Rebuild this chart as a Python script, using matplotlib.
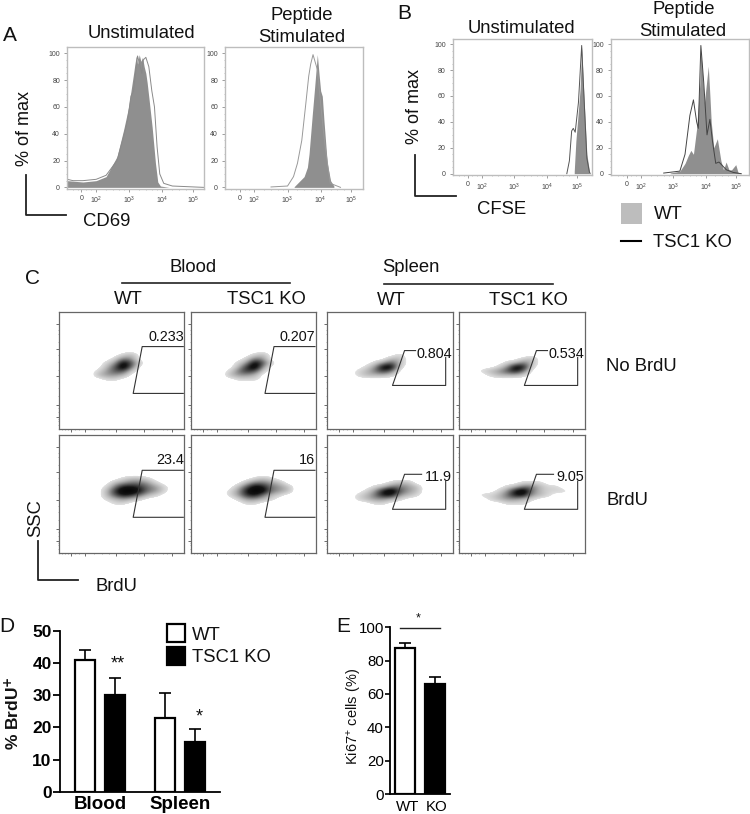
import matplotlib
matplotlib.use('Agg')
import matplotlib.pyplot as plt
from matplotlib.colors import LinearSegmentedColormap
from matplotlib.patches import Rectangle
from matplotlib.lines import Line2D
import numpy as np

plt.rcParams['font.family'] = ['Liberation Sans', 'DejaVu Sans']
plt.rcParams['mathtext.default'] = 'regular'

W, H = 750, 814

# histogram data, x in decades of fluorescence, y in % of max
a1_x_fill = [1.13,1.6,2.0,2.3,2.63,2.83,2.98,3.13,3.17,3.21,3.25,3.3,3.35,3.4,3.45,3.5,3.54,3.6,3.69,3.79,3.86,3.94,4.2]
a1_y_fill = [5,4,5,8,23,43,60,85,92,98,92,99,94,97,90,85,78,65,45,18,4,1,0]
a1_x_line = [1.13,1.3,1.6,2.0,2.3,2.63,2.83,2.95,3.05,3.13,3.2,3.25,3.33,3.38,3.42,3.5,3.59,3.68,3.76,3.84,3.92,4.04,4.3,5.24]
a1_y_line = [6,5,5,6,9,20,38,50,68,72,88,98,90,85,95,97,90,72,60,30,10,3,1,0]

a2_x_fill = [3.2,3.3,3.5,3.6,3.65,3.75,3.82,3.87,3.9,3.95,4.0,4.05,4.1,4.2,4.3,4.4]
a2_y_fill = [0.5,3,8,15,25,55,75,90,99,85,72,68,50,18,5,1]
a2_x_line = [2.5,3.0,3.18,3.3,3.43,3.55,3.64,3.7,3.77,3.84,3.9,3.99,4.07,4.14,4.29,4.6]
a2_y_line = [0.3,1,8,18,35,62,83,92,99,93,88,65,45,30,3,0]

b1_x_fill = [4.85,4.9,4.95,5.03,5.08,5.13,5.24,5.32,5.36]
b1_y_fill = [2,25,40,65,98,70,15,2,0]
b1_x_line = [4.62,4.7,4.77,4.82,4.88,4.98,5.08,5.15,5.24,5.32]
b1_y_line = [0,10,33,35,32,55,99,60,12,1]

b2_x_fill = [2.9,3.2,3.36,3.46,3.54,3.62,3.72,3.82,3.85,3.96,4.08,4.13,4.17,4.25,4.36,4.47,4.55,4.63,4.72,4.8,4.93,5.0,5.1]
b2_y_fill = [0.5,2,8,14,18,15,35,70,95,55,83,60,40,20,27,10,3,9,3,3,7,1,0]
b2_x_line = [2.7,3.2,3.36,3.51,3.62,3.72,3.77,3.85,3.94,4.04,4.13,4.21,4.31,4.41,4.64,4.85,5.1]
b2_y_line = [0.5,2,15,45,57,40,35,99,70,30,42,25,8,9,3,1,0]

hist_ticks = [1.55, 2, 3, 4, 4.93]
hist_ticklabels = ['0', '$10^2$', '$10^3$', '$10^4$', '$10^5$']
hist_minor = [1.3, 1.45, 1.7, 1.85, 2.3, 2.5, 2.7, 2.85, 3.3, 3.5, 3.7, 3.85, 4.3, 4.5, 4.7]
hist_yticks = [0, 20, 40, 60, 80, 100]

# density plots, rows run top to bottom (SSC 78 down to 46), columns BrdU 0 to 112
blood_wt_no = [
 [0,0,0,0,0,0,0,0,0,0,0,0,0,0,0],
 [0,0,0,0,0,0,0,0,1,2,0,0,0,0,0],
 [0,0,0,0,0,0,0,1,4,3,0,0,0,0,0],
 [0,0,0,0,0,0,1,3,8,5,1,0,0,0,0],
 [0,0,0,0,0,0,2,5,9,4,0,0,0,0,0],
 [0,0,0,0,0,1,3,5,5,1,0,0,0,0,0],
 [0,0,0,0,0,2,3,3,2,0,0,0,0,0,0],
 [0,0,0,0,0,0,1,1,0,0,0,0,0,0,0],
 [0,0,0,0,0,0,0,0,0,0,0,0,0,0,0]]
blood_ko_no = [
 [0,0,0,0,0,0,0,0,0,0,0,0,0,0,0],
 [0,0,0,0,0,0,0,0,1,2,0,0,0,0,0],
 [0,0,0,0,0,0,0,1,4,3,0,0,0,0,0],
 [0,0,0,0,0,0,1,3,8,5,1,0,0,0,0],
 [0,0,0,0,0,0,2,6,9,3,0,0,0,0,0],
 [0,0,0,0,0,1,4,6,5,1,0,0,0,0,0],
 [0,0,0,0,0,2,3,3,2,0,0,0,0,0,0],
 [0,0,0,0,0,0,1,1,1,0,0,0,0,0,0],
 [0,0,0,0,0,0,0,0,0,0,0,0,0,0,0]]
spleen_wt_no = [
 [0,0,0,0,0,0,0,0,0,0,0,0,0,0,0],
 [0,0,0,0,0,0,0,0,0,1,0,0,0,0,0],
 [0,0,0,0,0,0,0,0,2,2,0,0,0,0,0],
 [0,0,0,0,0,0,1,3,5,2,0,0,0,0,0],
 [0,0,0,0,0,1,3,8,8,1,0,0,0,0,0],
 [0,0,0,0,1,2,4,6,4,0,0,0,0,0,0],
 [0,0,0,0,1,2,2,2,1,0,0,0,0,0,0],
 [0,0,0,0,0,0,0,0,0,0,0,0,0,0,0],
 [0,0,0,0,0,0,0,0,0,0,0,0,0,0,0]]
spleen_ko_no = [
 [0,0,0,0,0,0,0,0,0,0,0,0,0,0,0],
 [0,0,0,0,0,0,0,0,0,0,0,0,0,0,0],
 [0,0,0,0,0,0,0,0,1,2,0,0,0,0,0],
 [0,0,0,0,0,0,1,2,4,2,0,0,0,0,0],
 [0,0,0,0,0,1,3,8,7,1,0,0,0,0,0],
 [0,0,0,1,2,3,5,7,4,0,0,0,0,0,0],
 [0,0,0,0,1,2,2,2,1,0,0,0,0,0,0],
 [0,0,0,0,0,0,0,0,0,0,0,0,0,0,0],
 [0,0,0,0,0,0,0,0,0,0,0,0,0,0,0]]
blood_wt_brdu = [
 [0,0,0,0,0,0,0,0,0,0,0,0,0,0,0],
 [0,0,0,0,0,0,0,0,1,2,2,1,0,0,0],
 [0,0,0,0,0,0,0,2,3,4,4,3,1,0,0],
 [0,0,0,0,0,0,1,4,7,7,6,4,3,1,0],
 [0,0,0,0,0,0,2,6,9,9,7,4,3,1,0],
 [0,0,0,0,0,0,2,5,7,6,4,2,1,0,0],
 [0,0,0,0,0,0,1,2,3,2,1,0,0,0,0],
 [0,0,0,0,0,0,0,1,1,0,0,0,0,0,0],
 [0,0,0,0,0,0,0,0,0,0,0,0,0,0,0]]
blood_ko_brdu = [
 [0,0,0,0,0,0,0,0,0,0,0,0,0,0,0],
 [0,0,0,0,0,0,0,0,1,2,1,0,0,0,0],
 [0,0,0,0,0,0,0,2,4,4,3,2,0,0,0],
 [0,0,0,0,0,0,2,5,8,7,4,3,2,0,0],
 [0,0,0,0,0,1,3,7,9,8,4,3,2,0,0],
 [0,0,0,0,0,1,3,6,7,4,2,1,0,0,0],
 [0,0,0,0,0,0,1,3,3,2,1,0,0,0,0],
 [0,0,0,0,0,0,0,1,1,0,0,0,0,0,0],
 [0,0,0,0,0,0,0,0,0,0,0,0,0,0,0]]
spleen_wt_brdu = [
 [0,0,0,0,0,0,0,0,0,0,0,0,0,0,0],
 [0,0,0,0,0,0,0,0,0,0,0,0,0,0,0],
 [0,0,0,0,0,0,0,0,1,2,2,0,0,0,0],
 [0,0,0,0,0,0,1,2,4,4,3,2,0,0,0],
 [0,0,0,0,0,1,3,7,9,5,3,2,0,0,0],
 [1,0,0,0,1,2,4,7,7,3,2,1,0,0,0],
 [0,0,0,0,1,2,3,3,2,1,0,0,0,0,0],
 [0,0,0,0,0,0,1,1,0,0,0,0,0,0,0],
 [0,0,0,0,0,0,0,0,0,0,0,0,0,0,0]]
spleen_ko_brdu = [
 [0,0,0,0,0,0,0,0,0,0,0,0,0,0,0],
 [0,0,0,0,0,0,0,0,0,0,0,0,0,0,0],
 [0,0,0,0,0,0,0,0,1,1,1,0,0,0,0],
 [0,0,0,0,0,0,1,2,4,4,2,1,1,0,0],
 [0,0,0,0,0,1,3,7,9,4,2,1,1,1,0],
 [1,0,0,1,1,2,4,7,7,3,2,1,0,0,0],
 [0,0,0,0,1,2,3,3,2,1,0,0,0,0,0],
 [0,0,0,0,0,0,1,1,1,0,0,0,0,0,0],
 [0,0,0,0,0,0,0,0,0,0,0,0,0,0,0]]
gate_labels = ['0.233', '0.207', '0.804', '0.534', '23.4', '16', '11.9', '9.05']

# bar panels
d_groups = ['Blood', 'Spleen']
d_wt = [41, 23]
d_wt_err = [3, 7.8]
d_ko = [30, 15.5]
d_ko_err = [5.3, 4]
e_labels = ['WT', 'KO']
e_vals = [87.8, 65.8]
e_err = [2.6, 4.2]

fig = plt.figure(figsize=(7.5, 8.14), dpi=100)


def axpx(l, t, r, b):
    return fig.add_axes([l / W, 1 - b / H, (r - l) / W, (b - t) / H])


def txt(x, y, s, size=13.3, **kw):
    kw.setdefault('ha', 'center')
    kw.setdefault('va', 'center')
    if 'rotation' in kw:
        x += 2.5
    else:
        y += 1.5
    fig.text(x / W, 1 - y / H, s, fontsize=size, color='#111111', **kw)


def rule(xs, ys, lw=1.3, color='#222222'):
    fig.add_artist(Line2D([x / W for x in xs], [1 - y / H for y in ys], lw=lw, color=color))


def box(l, t, r, b, fc, ec='none', lw=0):
    fig.add_artist(Rectangle((l / W, 1 - b / H), (r - l) / W, (b - t) / H, transform=fig.transFigure, fc=fc, ec=ec, lw=lw))


def hist_panel(rect, xlim, ylim, xf, yf, xl, yl, fillc, linec, spike=None):
    ax = axpx(*rect)
    ax.fill_between(xf, yf, 0, color=fillc, lw=0)
    ax.plot(xl, yl, color=linec, lw=0.7)
    if spike:
        ax.plot([xlim[0] + 0.01] * 2, [0, spike], color='#999999', lw=0.8)
    ax.set_xlim(*xlim)
    ax.set_ylim(*ylim)
    ax.set_xticks(hist_ticks)
    ax.set_xticklabels(hist_ticklabels)
    ax.set_xticks(hist_minor, minor=True)
    ax.set_yticks(hist_yticks)
    ax.set_yticks(np.arange(0, 101, 5), minor=True)
    ax.tick_params(axis='both', which='major', labelsize=5, length=2, width=0.5, pad=3,
                   color='#777777', labelcolor='#444444')
    ax.tick_params(axis='x', which='major', pad=2.5)
    ax.tick_params(which='minor', length=1, width=0.4, color='#999999')
    for s in ax.spines.values():
        s.set_color('#bdbdbd')
        s.set_linewidth(1)
    return ax


# A
hist_panel((67, 47, 203.5, 188.7), (1.12, 5.24), (-1, 104.7), a1_x_fill, a1_y_fill, a1_x_line, a1_y_line, '#8f8f8f', '#8a8a8a')
hist_panel((225, 47, 363, 188.7), (1.11, 5.28), (-1, 104.7), a2_x_fill, a2_y_fill, a2_x_line, a2_y_line, '#8f8f8f', '#999999', spike=20)
txt(10, 34, 'A', 15)
txt(141, 32, 'Unstimulated')
txt(302, 14, 'Peptide')
txt(302, 36, 'Stimulated')
txt(22, 128, '% of max', 13, rotation=90)
txt(107, 220, 'CD69')
rule([26, 26, 66], [175, 215, 215])

# B
hist_panel((452.7, 39, 591.7, 175), (1.09, 5.39), (-1, 104), b1_x_fill, b1_y_fill, b1_x_line, b1_y_line, '#8f8f8f', '#555555')
hist_panel((610.7, 39, 748.7, 175), (1.06, 5.33), (-1, 104), b2_x_fill, b2_y_fill, b2_x_line, b2_y_line, '#8f8f8f', '#444444')
txt(404, 12, 'B', 15)
txt(521, 27, 'Unstimulated')
txt(684, 8, 'Peptide')
txt(683, 30, 'Stimulated')
txt(412, 107, '% of max', 13, rotation=90)
txt(502, 208, 'CFSE')
rule([415, 415, 456], [155, 196, 196])
box(620.7, 203, 641.7, 224, '#bdbdbd')
rule([621, 641], [241, 241], 1.5, 'black')
txt(654, 213, 'WT', ha='left')
txt(653, 241, 'TSC1 KO', ha='left')

# C
density_cmap = LinearSegmentedColormap.from_list('facs', [(0, 'white'), (0.05, 'white'), (0.06, '#e0e0e0'),
                                                          (0.25, '#b0b0b0'), (0.5, '#606060'), (0.75, '#141414'), (1, 'black')])
x_major = [12, 26, 57, 85, 113]
x_minor = [3, 6, 9, 16, 20, 35, 43, 50, 66, 74, 80, 94, 104, 108]
y_major = [12, 24, 53, 81, 106]
y_minor = [4, 8, 10, 17, 21, 33, 41, 47, 60, 68, 75, 88, 96, 100]
grid_cols = [(59, 184.3), (191, 316), (327.3, 452.7), (459, 584.7)]
grid_rows = [(311.7, 429.3), (435.3, 553.3)]
panels = [blood_wt_no, blood_ko_no, spleen_wt_no, spleen_ko_no,
          blood_wt_brdu, blood_ko_brdu, spleen_wt_brdu, spleen_ko_brdu]

for i, dens in enumerate(panels):
    col = i % 4
    row = i // 4
    ax = axpx(grid_cols[col][0], grid_rows[row][0], grid_cols[col][1], grid_rows[row][1])
    ax.imshow(np.array(dens, dtype=float), extent=(-4, 116, 44, 80), cmap=density_cmap, vmin=0, vmax=9,
              interpolation='bicubic', interpolation_stage='data', aspect='auto')
    ax.set_xlim(0, 125)
    ax.set_ylim(0, 118)
    if col < 2:
        ax.plot([124, 83, 74, 124], [83, 83, 36, 36], color='#333333', lw=0.8)
        ax.text(124.5, 93, gate_labels[i], ha='right', va='center', fontsize=10.4, color='#111111')
    else:
        top_end = 88 if row == 0 else 94
        ax.plot([top_end, 77, 65, 118, 118], [79, 79, 44, 44, 72], color='#333333', lw=0.8)
        ax.text(124.5, 76, gate_labels[i], ha='right', va='center', fontsize=10.4, color='#111111')
    ax.set_xticks(x_major)
    ax.set_xticks(x_minor, minor=True)
    ax.set_yticks(y_major)
    ax.set_yticks(y_minor, minor=True)
    ax.set_xticklabels([])
    ax.set_yticklabels([])
    ax.tick_params(which='major', length=2, width=0.6, color='#555555')
    ax.tick_params(which='minor', length=1, width=0.4, color='#777777')
    for s in ax.spines.values():
        s.set_color('#666666')
        s.set_linewidth(0.9)

txt(32, 277, 'C', 15)
txt(193, 266, 'Blood')
txt(411, 266, 'Spleen')
rule([122, 290], [283, 283], 1.2)
rule([384, 553], [284, 284], 1.2)
txt(128, 298, 'WT')
txt(266, 298, 'TSC1 KO')
txt(391, 299, 'WT')
txt(528, 299, 'TSC1 KO')
txt(606, 365, 'No BrdU', ha='left')
txt(606, 499, 'BrdU', ha='left')
txt(33, 518, 'SSC', rotation=90)
txt(116, 585, 'BrdU')
rule([38, 38, 78], [541, 580, 580])

# D
ax = axpx(60, 630.7, 220, 791.7)
grp = np.arange(len(d_groups))
ax.bar(grp - 0.1875, d_wt, 0.25, color='white', edgecolor='black', lw=1.6,
       yerr=[[0, 0], d_wt_err], error_kw=dict(ecolor='black', elinewidth=1.2, capsize=4, capthick=1.2))
ax.bar(grp + 0.1875, d_ko, 0.25, color='black', edgecolor='black', lw=1.6,
       yerr=[[0, 0], d_ko_err], error_kw=dict(ecolor='black', elinewidth=1.2, capsize=4, capthick=1.2))
ax.set_xlim(-0.506, 1.494)
ax.set_ylim(0, 50)
ax.set_xticks(grp)
ax.set_xticklabels(d_groups, fontweight='bold', fontsize=13.5)
ax.set_yticks([0, 10, 20, 30, 40, 50])
ax.set_yticklabels(['0', '10', '20', '30', '40', '50'], fontweight='bold', fontsize=12.5)
ax.tick_params(axis='y', length=5, width=1.3, pad=1)
ax.tick_params(axis='x', length=0, pad=3)
ax.spines[['top', 'right']].set_visible(False)
ax.spines[['left', 'bottom']].set_linewidth(1.3)

txt(7, 625, 'D', 15)
txt(10, 713, '% BrdU$^{\\mathbf{+}}$', 12.5, rotation=90, fontweight='bold')
txt(118, 662, '**', 13)
txt(199, 715, '*', 13)
box(167, 624, 185, 642, 'white', 'black', 1.6)
box(167, 647, 185, 665, 'black', 'black', 1.6)
txt(192, 634, 'WT', ha='left')
txt(192, 656, 'TSC1 KO', ha='left')

# E
ax = axpx(390, 627.3, 450, 794)
ax.bar([0, 1], e_vals, 0.667, color=['white', 'black'], edgecolor='black', lw=1.6,
       yerr=[[0, 0], e_err], error_kw=dict(ecolor='black', elinewidth=1.2, capsize=4, capthick=1.2))
ax.set_xlim(-0.5, 1.5)
ax.set_ylim(0, 100)
ax.set_xticks([0.1, 1.05])
ax.set_xticklabels(e_labels, fontsize=10.8)
ax.set_yticks([0, 20, 40, 60, 80, 100])
ax.tick_params(axis='y', length=3.5, width=1.2, labelsize=10.8, pad=1)
ax.tick_params(axis='x', length=0, pad=4)
ax.spines[['top', 'right']].set_visible(False)
ax.spines[['left', 'bottom']].set_linewidth(1.3)
txt(352, 716, 'Ki67$^{+}$ cells (%)', 10.5, rotation=90)
rule([400, 440], [627.7, 627.7], 1)
txt(417.7, 617, '*', 9)
txt(343, 625, 'E', 15)

fig.savefig('out.png', dpi=100)
